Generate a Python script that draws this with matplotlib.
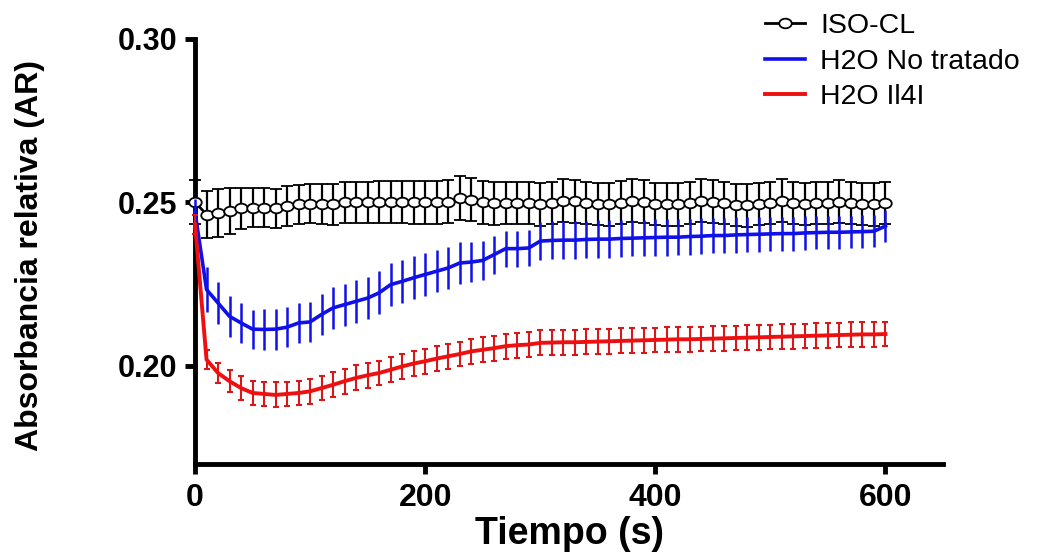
import matplotlib
matplotlib.use("Agg")
import matplotlib.pyplot as plt
from matplotlib.lines import Line2D
from matplotlib.path import Path
from matplotlib.transforms import Affine2D

plt.rcParams['font.family'] = ['Liberation Sans', 'DejaVu Sans']

tiempo = list(range(0, 610, 10))

iso_cl = [0.2500, 0.2462, 0.2467, 0.2472, 0.2481, 0.2483, 0.2483, 0.2481, 0.2488, 0.2493,
          0.2495, 0.2495, 0.2493, 0.2499, 0.2499, 0.2499, 0.2500, 0.2500, 0.2501, 0.2500,
          0.2500, 0.2499, 0.2501, 0.2513, 0.2508, 0.2499, 0.2497, 0.2498, 0.2498, 0.2498,
          0.2493, 0.2498, 0.2505, 0.2503, 0.2498, 0.2495, 0.2493, 0.2498, 0.2505, 0.2501,
          0.2495, 0.2493, 0.2493, 0.2498, 0.2505, 0.2501, 0.2498, 0.2491, 0.2490, 0.2495,
          0.2498, 0.2505, 0.2498, 0.2495, 0.2497, 0.2498, 0.2501, 0.2497, 0.2495, 0.2493,
          0.2498]
iso_cl_err = [0.0068, 0.0072, 0.0072, 0.0070, 0.0062, 0.0060, 0.0060, 0.0060, 0.0060, 0.0060,
              0.0060, 0.0062, 0.0062, 0.0064, 0.0064, 0.0064, 0.0065, 0.0065, 0.0065, 0.0066,
              0.0066, 0.0066, 0.0066, 0.0067, 0.0067, 0.0066, 0.0066, 0.0065, 0.0065, 0.0065,
              0.0065, 0.0065, 0.0066, 0.0066, 0.0065, 0.0065, 0.0065, 0.0066, 0.0066, 0.0066,
              0.0065, 0.0065, 0.0065, 0.0065, 0.0066, 0.0066, 0.0065, 0.0065, 0.0065, 0.0065,
              0.0065, 0.0066, 0.0065, 0.0065, 0.0065, 0.0065, 0.0066, 0.0065, 0.0065, 0.0065,
              0.0065]

no_tratado = [0.2470, 0.2233, 0.2192, 0.2151, 0.2131, 0.2112, 0.2111, 0.2112, 0.2118, 0.2131,
              0.2134, 0.2157, 0.2177, 0.2187, 0.2197, 0.2207, 0.2223, 0.2248, 0.2258, 0.2269,
              0.2279, 0.2289, 0.2299, 0.2314, 0.2317, 0.2322, 0.2340, 0.2358, 0.2358, 0.2360,
              0.2381, 0.2383, 0.2384, 0.2384, 0.2386, 0.2387, 0.2387, 0.2389, 0.2390, 0.2391,
              0.2392, 0.2393, 0.2393, 0.2395, 0.2396, 0.2398, 0.2398, 0.2400, 0.2401, 0.2402,
              0.2403, 0.2404, 0.2404, 0.2406, 0.2407, 0.2408, 0.2408, 0.2409, 0.2410, 0.2411,
              0.2427]
no_tratado_err = [0.0040, 0.0068, 0.0064, 0.0062, 0.0060, 0.0060, 0.0062, 0.0063, 0.0062, 0.0062,
                  0.0062, 0.0063, 0.0064, 0.0064, 0.0065, 0.0065, 0.0066, 0.0066, 0.0066, 0.0066,
                  0.0066, 0.0065, 0.0064, 0.0063, 0.0062, 0.0060, 0.0058, 0.0055, 0.0055, 0.0055,
                  0.0058, 0.0058, 0.0058, 0.0058, 0.0057, 0.0057, 0.0057, 0.0057, 0.0056, 0.0056,
                  0.0056, 0.0056, 0.0055, 0.0055, 0.0055, 0.0054, 0.0054, 0.0054, 0.0053, 0.0053,
                  0.0053, 0.0052, 0.0052, 0.0052, 0.0051, 0.0051, 0.0050, 0.0050, 0.0050, 0.0049,
                  0.0048]

il4i = [0.2432, 0.2019, 0.1978, 0.1953, 0.1932, 0.1917, 0.1914, 0.1911, 0.1914, 0.1917,
        0.1922, 0.1932, 0.1942, 0.1953, 0.1963, 0.1971, 0.1978, 0.1988, 0.1998, 0.2007,
        0.2014, 0.2022, 0.2029, 0.2036, 0.2044, 0.2049, 0.2054, 0.2060, 0.2063, 0.2065,
        0.2070, 0.2071, 0.2072, 0.2072, 0.2073, 0.2074, 0.2075, 0.2076, 0.2077, 0.2078,
        0.2079, 0.2080, 0.2081, 0.2081, 0.2082, 0.2083, 0.2084, 0.2085, 0.2086, 0.2087,
        0.2088, 0.2089, 0.2090, 0.2091, 0.2092, 0.2093, 0.2094, 0.2095, 0.2096, 0.2096,
        0.2097]
il4i_err = [0.0030, 0.0030, 0.0032, 0.0034, 0.0036, 0.0037, 0.0038, 0.0038, 0.0038, 0.0038,
            0.0038, 0.0038, 0.0038, 0.0038, 0.0038, 0.0038, 0.0038, 0.0038, 0.0038, 0.0038,
            0.0038, 0.0038, 0.0038, 0.0038, 0.0038, 0.0038, 0.0038, 0.0038, 0.0038, 0.0038,
            0.0038, 0.0038, 0.0038, 0.0038, 0.0038, 0.0038, 0.0038, 0.0038, 0.0038, 0.0038,
            0.0038, 0.0038, 0.0038, 0.0038, 0.0038, 0.0038, 0.0038, 0.0038, 0.0038, 0.0038,
            0.0038, 0.0038, 0.0038, 0.0038, 0.0038, 0.0038, 0.0038, 0.0038, 0.0038, 0.0038,
            0.0038]

labels = ["ISO-CL", "H2O No tratado", "H2O Il4I"]
azul = '#1010e8'
rojo = '#ee1010'

# open circles look slightly wider than tall in the original
elipse = Path.unit_circle().transformed(Affine2D().scale(1.3, 1.0))

fig = plt.figure(figsize=(10.39, 5.55), dpi=100)
ax = fig.add_axes([0.1877, 0.164, 0.7199, 0.7666])

ax.errorbar(tiempo, iso_cl, yerr=iso_cl_err, color='black', lw=2, marker=elipse,
            ms=9, mfc='white', mec='black', mew=1.3, ecolor='black', elinewidth=1.6,
            capsize=4, capthick=1.6, clip_on=False, zorder=3)
ax.errorbar(tiempo, no_tratado, yerr=no_tratado_err, color=azul, lw=2.6,
            ecolor=azul, elinewidth=1.8, capsize=0, clip_on=False, zorder=4)
ax.errorbar(tiempo, il4i, yerr=il4i_err, color=rojo, lw=2.8,
            ecolor='#d81818', elinewidth=1.5, capsize=2.5, capthick=1.5, clip_on=False, zorder=5)

ax.set_xlim(0, 650)
ax.set_ylim(0.17, 0.30)
ax.set_xticks([0, 200, 400, 600])
ax.set_yticks([0.20, 0.25, 0.30])
ax.set_yticklabels(["0.20", "0.25", "0.30"])

for s in ['top', 'right']:
    ax.spines[s].set_visible(False)
for s in ['left', 'bottom']:
    ax.spines[s].set_linewidth(3.5)
ax.tick_params(axis='both', length=7, width=3.5, direction='out')
ax.tick_params(axis='y', pad=6, labelsize=22)
ax.tick_params(axis='x', pad=7, labelsize=23)
for t in ax.get_xticklabels() + ax.get_yticklabels():
    t.set_fontweight('bold')

ax.set_xlabel("Tiempo (s)", fontsize=27, fontweight='bold')
ax.set_ylabel("Absorbancia relativa (AR)", fontsize=23, fontweight='bold')
ax.xaxis.set_label_coords(0.5, -0.122)
ax.yaxis.set_label_coords(-0.2, 0.49)

handles = [
    Line2D([], [], color='black', lw=2, marker=elipse, ms=9, mfc='white', mec='black', mew=1.3),
    Line2D([], [], color=azul, lw=2.6),
    Line2D([], [], color=rojo, lw=2.8),
]
fig.legend(handles, labels, loc='upper left', bbox_to_anchor=(765 / 1039, 1 - 13 / 555),
           frameon=False, fontsize=20.5, borderpad=0, borderaxespad=0, handlelength=1.42,
           handletextpad=0.52, labelspacing=0.34)

fig.savefig("out.png", dpi=100)
